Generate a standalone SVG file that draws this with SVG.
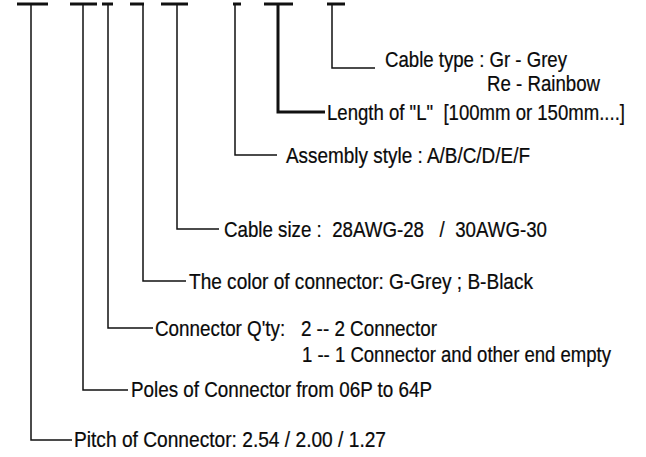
<svg xmlns="http://www.w3.org/2000/svg" width="646" height="457" viewBox="0 0 646 457">
<style>
.t{font-family:"Liberation Sans",Arial,sans-serif;font-size:23px;fill:#0a0a0a;stroke:#0a0a0a;stroke-width:0.25;}
.l{fill:none;stroke:#111;stroke-width:1.5;}
.b{fill:none;stroke:#111;stroke-width:3;}
.k{fill:none;stroke:#111;stroke-width:3;}
</style>
<rect width="646" height="457" fill="#fff"/>
<g id="bars">
<line class="b" x1="17" y1="4" x2="48" y2="4"/>
<line class="b" x1="70" y1="4" x2="97" y2="4"/>
<line class="b" x1="102" y1="4" x2="113" y2="4"/>
<line class="b" x1="130" y1="4" x2="144" y2="4"/>
<line class="b" x1="161" y1="4" x2="188" y2="4"/>
<line class="b" x1="233" y1="4" x2="241" y2="4"/>
<line class="b" x1="264" y1="4" x2="293" y2="4"/>
<line class="b" x1="327" y1="4" x2="345" y2="4"/>
</g>
<g id="connectors">
<polyline class="l" points="31,4 31,440 72,440"/>
<polyline class="l" points="83,4 83,390 128,390"/>
<polyline class="l" points="108,4 108,328 153,328"/>
<polyline class="l" points="143,4 143,281 186,281"/>
<polyline class="l" points="177,4 177,229 219,229"/>
<polyline class="l" points="235,4 235,155 277,155"/>
<polyline class="k" points="278,4 278,112 325,112"/>
<polyline class="l" points="332,4 332,68 375,68"/>
</g>
<g id="cable-type">
<text class="t" transform="translate(385,67) scale(0.81,1)" textLength="224.7" lengthAdjust="spacingAndGlyphs">Cable type : Gr - Grey</text>
<text class="t" transform="translate(487,91) scale(0.81,1)" textLength="139.5" lengthAdjust="spacingAndGlyphs">Re - Rainbow</text>
</g>
<g id="length">
<text class="t" transform="translate(327,120) scale(0.81,1)" textLength="367.9" lengthAdjust="spacingAndGlyphs" xml:space="preserve">Length of "L"  [100mm or 150mm....]</text>
</g>
<g id="assembly">
<text class="t" transform="translate(286,163) scale(0.81,1)" textLength="301.2" lengthAdjust="spacingAndGlyphs">Assembly style : A/B/C/D/E/F</text>
</g>
<g id="cable-size">
<text class="t" transform="translate(224,237) scale(0.81,1)" textLength="398.8" lengthAdjust="spacingAndGlyphs" xml:space="preserve">Cable size :  28AWG-28   /  30AWG-30</text>
</g>
<g id="color">
<text class="t" transform="translate(189,289) scale(0.81,1)" textLength="424.7" lengthAdjust="spacingAndGlyphs">The color of connector: G-Grey ; B-Black</text>
</g>
<g id="qty">
<text class="t" transform="translate(155,336) scale(0.81,1)" textLength="348.1" lengthAdjust="spacingAndGlyphs" xml:space="preserve">Connector Q'ty:   2 -- 2 Connector</text>
<text class="t" transform="translate(302,362) scale(0.81,1)" textLength="381.5" lengthAdjust="spacingAndGlyphs">1 -- 1 Connector and other end empty</text>
</g>
<g id="poles">
<text class="t" transform="translate(131,397) scale(0.81,1)" textLength="371.6" lengthAdjust="spacingAndGlyphs">Poles of Connector from 06P to 64P</text>
</g>
<g id="pitch">
<text class="t" transform="translate(74,447) scale(0.81,1)" textLength="385.2" lengthAdjust="spacingAndGlyphs">Pitch of Connector: 2.54 / 2.00 / 1.27</text>
</g>
</svg>
